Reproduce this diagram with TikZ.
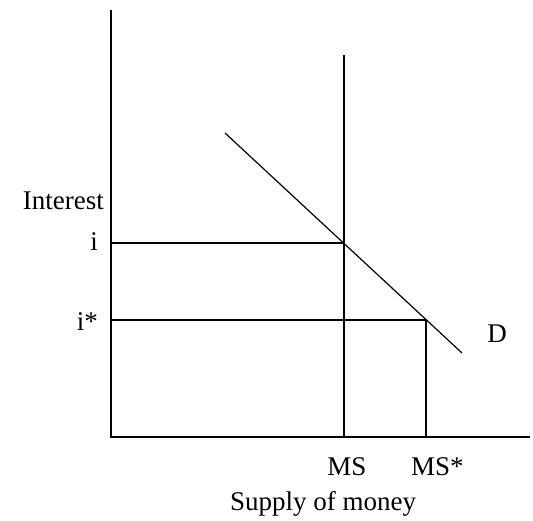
\documentclass[tikz,border=0pt]{standalone}
\usepackage{fontspec}
\setmainfont{Liberation Serif}
\usepackage{tikz}
\usetikzlibrary{positioning}

\begin{document}
\begin{tikzpicture}[x=1pt, y=-1pt, font=\fontsize{27}{30}\selectfont,
  axis/.style={line width=2pt},
  curve/.style={line width=1.2pt},
  lbl/.style={inner sep=0pt}]
\useasboundingbox (0,0) rectangle (533,521);
% axes
\coordinate (O) at (111,437);
\coordinate (ytop) at (111,10);
\coordinate (xend) at (530,437);
\draw[axis] (ytop)--(O)--(xend);
% money supply and demand
\coordinate (mstop) at (344,55);
\coordinate (msbot) at (344,437);
\coordinate (dtop) at (225,133);
\coordinate (dbot) at (462,353);
\draw[axis] (mstop)--(msbot);
\draw[curve] (dtop)--(dbot);
% equilibria
\coordinate (iax) at (111,243);
\coordinate (eq) at (344,243);
\coordinate (isax) at (111,320);
\coordinate (eqs) at (426,320);
\coordinate (mssbot) at (426,437);
\draw[axis] (iax)--(eq);
\draw[axis] (isax)--(eqs)--(mssbot);
% labels
\node[lbl, anchor=base east] (interest) at (104,210) {Interest};
\node[lbl, anchor=base east] (ilbl) at (98,251) {i};
\node[lbl, anchor=base east] (islbl) at (98,331) {i*};
\node[lbl, anchor=base] (mslbl) at (347,475) {MS};
\node[lbl, anchor=base west] (msslbl) at (411,475) {MS*};
\node[lbl, anchor=base] (supply) at (323,510) {Supply of money};
\node[lbl, anchor=base] (dlbl) at (497,343) {D};
\end{tikzpicture}
\end{document}
